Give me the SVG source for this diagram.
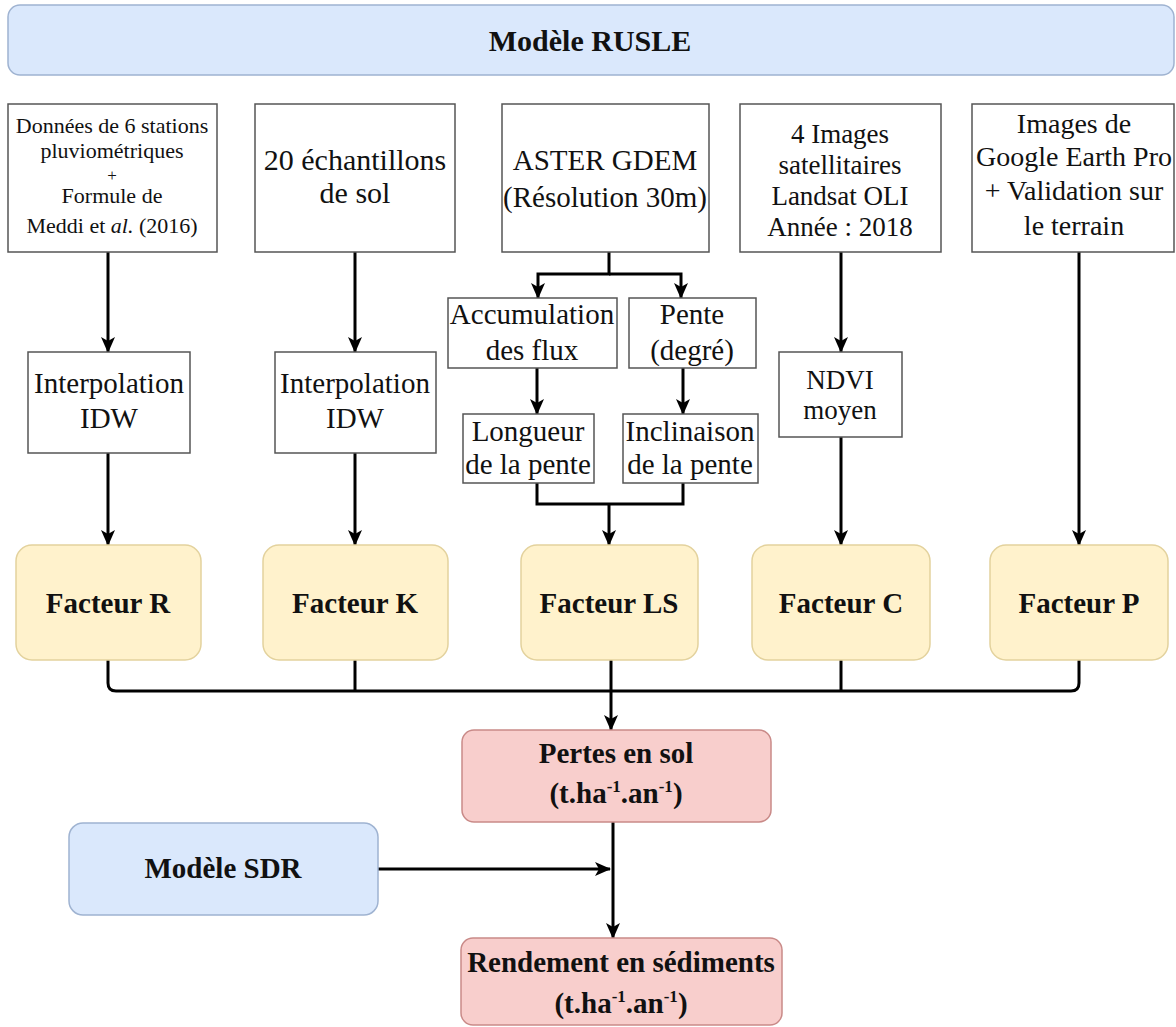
<svg xmlns="http://www.w3.org/2000/svg" width="1176" height="1027" viewBox="0 0 1176 1027">
<defs>
<marker id="arr" markerUnits="userSpaceOnUse" markerWidth="16" markerHeight="16" viewBox="0 0 16 16" refX="15" refY="8" orient="auto">
<path d="M0,1 L16,8 L0,15 L4,8 z" fill="#000"/>
</marker>
<style>
.t{font-family:"Liberation Serif","Times New Roman",serif;fill:#111;text-anchor:middle}
.b{font-weight:bold}
.box{fill:#fff;stroke:#555;stroke-width:1.5}
.blue{fill:#dae8fc;stroke:#9fb3d1;stroke-width:1.5}
.yel{fill:#fff2cc;stroke:#e3d29d;stroke-width:1.5}
.red{fill:#f8cecc;stroke:#c98a88;stroke-width:1.5}
.c{fill:none;stroke:#000;stroke-width:3}
</style>
</defs>
<rect width="1176" height="1027" fill="#fff"/>

<g id="banner">
<rect class="blue" x="8" y="5" width="1166" height="70" rx="12"/>
<text class="t b" x="590" y="51" font-size="30">Modèle RUSLE</text>
</g>

<g id="connectors">
<path class="c" d="M108,252 V352" marker-end="url(#arr)"/>
<path class="c" d="M108,453 V545" marker-end="url(#arr)"/>
<path class="c" d="M355,252 V352" marker-end="url(#arr)"/>
<path class="c" d="M355,453 V545" marker-end="url(#arr)"/>
<path class="c" d="M609,252 V274 H538 V298" marker-end="url(#arr)"/>
<path class="c" d="M609,274 H681 V298" marker-end="url(#arr)"/>
<path class="c" d="M537,368 V414" marker-end="url(#arr)"/>
<path class="c" d="M683,368 V414" marker-end="url(#arr)"/>
<path class="c" d="M537,483 V504 H683 V483"/>
<path class="c" d="M609,504 V545" marker-end="url(#arr)"/>
<path class="c" d="M841,252 V352" marker-end="url(#arr)"/>
<path class="c" d="M841,437 V545" marker-end="url(#arr)"/>
<path class="c" d="M1079,252 V545" marker-end="url(#arr)"/>
<path class="c" d="M108,660 V683 Q108,691 116,691 H1071 Q1079,691 1079,683 V660"/>
<path class="c" d="M355,660 V691"/>
<path class="c" d="M611,660 V691"/>
<path class="c" d="M841,660 V691"/>
<path class="c" d="M611,691 V730" marker-end="url(#arr)"/>
<path class="c" d="M613,822 V938" marker-end="url(#arr)"/>
<path class="c" d="M378,869 H610" marker-end="url(#arr)"/>
</g>

<g id="input-R">
<rect class="box" x="8" y="104" width="209" height="148"/>
<text class="t" x="112" y="133" font-size="22">Données de 6 stations</text>
<text class="t" x="112" y="158" font-size="22">pluviométriques</text>
<text class="t" x="112" y="181" font-size="17">+</text>
<text class="t" x="112" y="203" font-size="22">Formule de</text>
<text class="t" x="112" y="233" font-size="22">Meddi et <tspan font-style="italic">al.</tspan> (2016)</text>
</g>

<g id="input-K">
<rect class="box" x="255" y="104" width="200" height="148"/>
<text class="t" x="355" y="170" font-size="30">20 échantillons</text>
<text class="t" x="355" y="203" font-size="30">de sol</text>
</g>

<g id="input-LS">
<rect class="box" x="502" y="104" width="207" height="148"/>
<text class="t" x="605" y="170" font-size="29">ASTER GDEM</text>
<text class="t" x="605" y="207" font-size="29">(Résolution 30m)</text>
</g>

<g id="input-C">
<rect class="box" x="740" y="104" width="201" height="148"/>
<text class="t" x="840" y="143" font-size="27">4 Images</text>
<text class="t" x="840" y="174" font-size="27">satellitaires</text>
<text class="t" x="840" y="205" font-size="27">Landsat OLI</text>
<text class="t" x="840" y="236" font-size="27">Année : 2018</text>
</g>

<g id="input-P">
<rect class="box" x="972" y="104" width="202" height="148"/>
<text class="t" x="1074" y="133" font-size="28">Images de</text>
<text class="t" x="1074" y="166" font-size="28">Google Earth Pro</text>
<text class="t" x="1074" y="200" font-size="28">+ Validation sur</text>
<text class="t" x="1074" y="235" font-size="28">le terrain</text>
</g>

<g id="interp-R">
<rect class="box" x="28" y="352" width="162" height="101"/>
<text class="t" x="109" y="393" font-size="29">Interpolation</text>
<text class="t" x="109" y="428" font-size="29">IDW</text>
</g>

<g id="interp-K">
<rect class="box" x="275" y="352" width="161" height="101"/>
<text class="t" x="355" y="393" font-size="29">Interpolation</text>
<text class="t" x="355" y="428" font-size="29">IDW</text>
</g>

<g id="accumulation">
<rect class="box" x="448" y="298" width="169" height="70"/>
<text class="t" x="532" y="324" font-size="29">Accumulation</text>
<text class="t" x="532" y="360" font-size="29">des flux</text>
</g>

<g id="pente">
<rect class="box" x="629" y="298" width="127" height="70"/>
<text class="t" x="692" y="324" font-size="29">Pente</text>
<text class="t" x="692" y="360" font-size="29">(degré)</text>
</g>

<g id="longueur">
<rect class="box" x="463" y="414" width="131" height="69"/>
<text class="t" x="528" y="441" font-size="29">Longueur</text>
<text class="t" x="528" y="474" font-size="29">de la pente</text>
</g>

<g id="inclinaison">
<rect class="box" x="623" y="414" width="135" height="69"/>
<text class="t" x="690" y="441" font-size="29">Inclinaison</text>
<text class="t" x="690" y="474" font-size="29">de la pente</text>
</g>

<g id="ndvi">
<rect class="box" x="779" y="352" width="123" height="85"/>
<text class="t" x="840" y="389" font-size="27">NDVI</text>
<text class="t" x="840" y="419" font-size="27">moyen</text>
</g>

<g id="facteur-R">
<rect class="yel" x="16" y="545" width="185" height="115" rx="16"/>
<text class="t b" x="108" y="613" font-size="29">Facteur R</text>
</g>
<g id="facteur-K">
<rect class="yel" x="263" y="545" width="185" height="115" rx="16"/>
<text class="t b" x="355" y="613" font-size="29">Facteur K</text>
</g>
<g id="facteur-LS">
<rect class="yel" x="521" y="545" width="177" height="115" rx="16"/>
<text class="t b" x="609" y="613" font-size="29">Facteur LS</text>
</g>
<g id="facteur-C">
<rect class="yel" x="752" y="545" width="178" height="115" rx="16"/>
<text class="t b" x="841" y="613" font-size="29">Facteur C</text>
</g>
<g id="facteur-P">
<rect class="yel" x="990" y="545" width="178" height="115" rx="16"/>
<text class="t b" x="1079" y="613" font-size="29">Facteur P</text>
</g>

<g id="pertes">
<rect class="red" x="462" y="730" width="309" height="92" rx="12"/>
<text class="t b" x="616" y="763" font-size="29">Pertes en sol</text>
<text class="t b" x="616" y="803" font-size="29">(t.ha<tspan font-size="17" dy="-11">-1</tspan><tspan dy="11">.an</tspan><tspan font-size="17" dy="-11">-1</tspan><tspan dy="11">)</tspan></text>
</g>

<g id="sdr">
<rect class="blue" x="69" y="823" width="309" height="92" rx="14"/>
<text class="t b" x="223" y="878" font-size="29">Modèle SDR</text>
</g>

<g id="rendement">
<rect class="red" x="461" y="938" width="321" height="87" rx="12"/>
<text class="t b" x="621" y="972" font-size="29">Rendement en sédiments</text>
<text class="t b" x="621" y="1013" font-size="29">(t.ha<tspan font-size="17" dy="-11">-1</tspan><tspan dy="11">.an</tspan><tspan font-size="17" dy="-11">-1</tspan><tspan dy="11">)</tspan></text>
</g>
</svg>
